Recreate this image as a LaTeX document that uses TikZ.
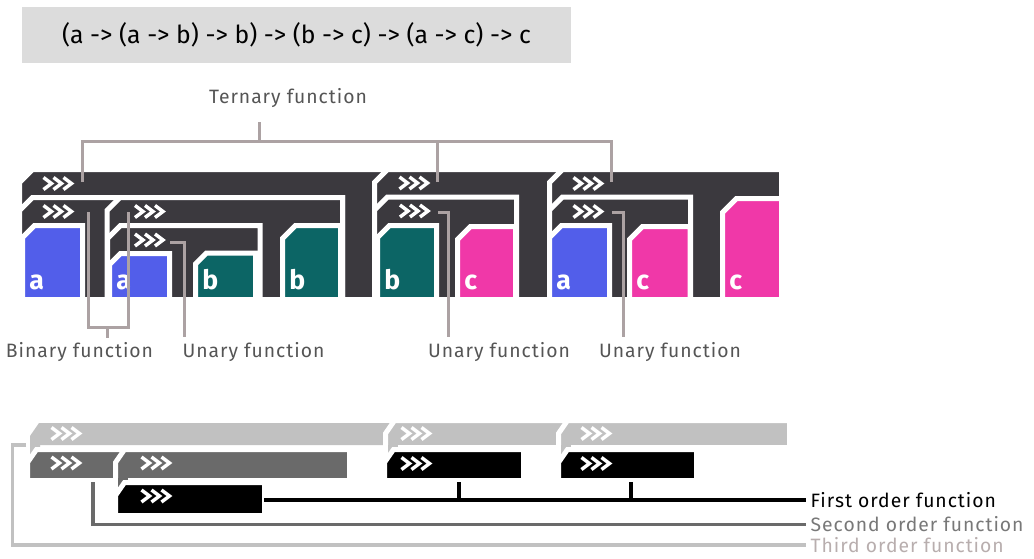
\documentclass[tikz,border=0pt]{standalone}
\usepackage{fontspec}
\setmainfont{Fira Sans}
\newfontfamily\labfont[LetterSpace=5]{Fira Sans}
\usepackage{tikz}

\definecolor{slab}{RGB}{59,57,62}
\definecolor{tya}{RGB}{82,94,234}
\definecolor{tyb}{RGB}{12,101,101}
\definecolor{tyc}{RGB}{240,56,168}
\definecolor{leadc}{RGB}{172,162,163}
\definecolor{labc}{RGB}{85,85,85}
\definecolor{sigbg}{RGB}{220,220,220}
\definecolor{third}{RGB}{193,193,193}
\definecolor{second}{RGB}{106,106,106}
\definecolor{thirdtxt}{RGB}{184,174,174}
\definecolor{secondtxt}{RGB}{120,120,120}

\tikzset{
  whiteedge/.style={draw=white,line width=3.75pt,line join=miter},
  leader/.style={draw=leadc,line width=2.25pt},
  lbl/.style={text=labc,font=\labfont\fontsize{14.5}{16}\selectfont},
  tyname/.style={text=white,font=\fontsize{20}{20}\selectfont\bfseries,anchor=base west,inner sep=0pt},
  chev/.style={draw=white,line width=2.6pt,line join=miter},
  sigbox/.style={fill=sigbg,minimum width=411.75pt,minimum height=42pt,inner sep=0pt,font=\fontsize{18.6}{20}\selectfont},
  order/.style={line width=2.4pt},
  ordtxt/.style={anchor=west,inner ysep=0.5pt,font=\labfont\fontsize{14.5}{16}\selectfont}
}

\newcommand\blk[6][13]{\path[whiteedge,fill=#2] ({#3},{#4+#1}) -- ({#3+#1},{#4}) -- ({#5},{#4}) -- ({#5},{#6}) -- ({#3},{#6}) -- cycle;}
\newcommand\strip[5]{\path[whiteedge,fill=#1] ({#2},{#3+13}) -- ({#2+9},{#3}) -- ({#4},{#3}) -- ({#4},{#5}) -- ({#2},{#5}) -- cycle;}
\newcommand\chevs[2]{\foreach \k in {0,10,20} \draw[chev] ({#1+\k+1.5},{#2-6}) -- ++(8,6) -- ++(-8,6);}

\begin{document}
\begin{tikzpicture}[x=0.75pt,y=-0.75pt]
\useasboundingbox (0,0) rectangle (1034,558);
\node[sigbox] (sig) at (296.5,35) {(a -> (a -> b) -> b) -> (b -> c) -> (a -> c) -> c};

\blk{slab}{19.5}{169.5}{781.5}{299.5}
\blk{slab}{374.5}{169.5}{781.5}{299.5}
\blk{slab}{549.5}{169.5}{781.5}{299.5}
\blk{slab}{19.5}{197.5}{342.5}{299.5}
\blk{slab}{107}{197.5}{342.5}{299.5}
\blk[12]{tya}{22.5}{225.5}{82.5}{299.5}
\blk{slab}{107.5}{225.5}{260}{299.5}
\blk[11]{tya}{109.5}{253.5}{169.5}{299.5}
\blk[11]{tyb}{195.5}{253}{255.5}{299.5}
\blk[13]{tyb}{282.5}{225.5}{340.5}{299.5}
\blk{slab}{374.5}{197}{516.5}{299.5}
\blk[12]{tyb}{377.5}{225.5}{436.5}{299.5}
\blk[13]{tyc}{457.5}{226.5}{515.5}{299.5}
\blk{slab}{549.5}{197}{690.5}{299.5}
\blk[12]{tya}{549.5}{225.5}{609.5}{299.5}
\blk[13]{tyc}{629.5}{226.5}{690}{299.5}
\blk[14]{tyc}{722.5}{198.5}{781.5}{299.5}

\chevs{42}{183.5}
\chevs{398}{183}
\chevs{572}{183.5}
\chevs{42}{211.5}
\chevs{133.5}{211.5}
\chevs{133.5}{240}
\chevs{398.5}{211}
\chevs{572}{211.5}

\node[tyname] (na1) at (29,289) {a};
\node[tyname] (na2) at (116,289) {a};
\node[tyname] (nb1) at (202,289) {b};
\node[tyname] (nb2) at (289,289) {b};
\node[tyname] (nb3) at (384,289) {b};
\node[tyname] (nc1) at (464,289) {c};
\node[tyname] (na3) at (556,289) {a};
\node[tyname] (nc2) at (636,289) {c};
\node[tyname] (nc3) at (729,289) {c};

\node[lbl] (tern) at (288,98) {Ternary function};
\node[lbl] (bin) at (79.5,352) {Binary function};
\node[lbl] (un1) at (253.5,352) {Unary function};
\node[lbl] (un2) at (499,352) {Unary function};
\node[lbl] (un3) at (670,352) {Unary function};

\coordinate (tA) at (82,182);
\coordinate (tB) at (437.5,182);
\coordinate (tC) at (611,182);
\coordinate (tJ) at (259,141);
\coordinate (tT) at (259,122);
\draw[leader] (tA) |- (tJ) -| (tC);
\draw[leader] (tB) -- (tB |- tJ);
\draw[leader] (tT) -- (tJ);
\coordinate (bA) at (88.5,212);
\coordinate (bB) at (128.5,212);
\coordinate (bJ) at (107,327);
\coordinate (bT) at (107,338);
\draw[leader] (bA) |- (bJ) -| (bB);
\draw[leader] (bJ) -- (bT);
\coordinate (uA) at (170,242);
\coordinate (uT) at (184.5,337);
\draw[leader] (uA) -| (uT);
\coordinate (vA) at (438,212);
\coordinate (vT) at (448,337);
\draw[leader] (vA) -| (vT);
\coordinate (wA) at (612,212);
\coordinate (wT) at (623,337);
\draw[leader] (wA) -| (wT);

\fill[third] (30,436) -- (39,423) -- (787,423) -- (787,445) -- (40,445) -- (40,468) -- (30,468) -- cycle;
\strip{third}{385.5}{420.5}{789.5}{447.5}
\fill[third] (388,445) rectangle (398,468);
\strip{third}{558.5}{420.5}{789.5}{447.5}
\fill[third] (561,445) rectangle (571,468);
\strip{second}{27.5}{449.5}{349.5}{480.5}
\strip{second}{115.5}{449.5}{349.5}{480.5}
\fill[second] (118,478) rectangle (128,500);
\strip{black}{115.5}{482.5}{264.5}{515.5}
\strip{black}{384.5}{449.5}{523.5}{480.5}
\strip{black}{558.5}{449.5}{696.5}{480.5}

\chevs{50}{433.5}
\chevs{400}{433.5}
\chevs{580}{433.5}
\chevs{50}{463}
\chevs{140}{463}
\chevs{140}{496}
\chevs{400}{463.5}
\chevs{580}{463.5}

\node[ordtxt] (fot) at (806,500) {First order function};
\node[ordtxt,text=secondtxt] (sot) at (806,524.5) {Second order function};
\node[ordtxt,text=thirdtxt] (tot) at (806,545) {Third order function};

\coordinate (k1) at (264,500);
\coordinate (k2) at (459,482);
\coordinate (k3) at (631,482);
\draw[order] (k1) -- (fot.west);
\draw[order] (k2) -- (k2 |- fot.west);
\draw[order] (k3) -- (k3 |- fot.west);
\coordinate (m1) at (93,482);
\draw[order,second] (m1) |- (sot.west);
\coordinate (l1) at (26,445);
\coordinate (l0) at (12.5,445);
\draw[order,third] (l1) -- (l0) |- (tot.west);
\end{tikzpicture}
\end{document}
